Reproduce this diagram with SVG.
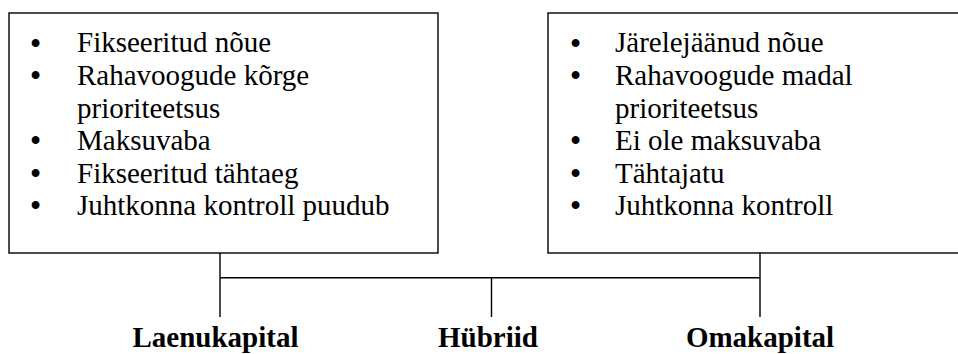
<svg xmlns="http://www.w3.org/2000/svg" width="958" height="354" viewBox="0 0 958 354">
<style>
.box{fill:#fff;stroke:#000;stroke-width:1.4}
.ln{stroke:#000;stroke-width:1.4;fill:none}
text.t{font-family:'Liberation Serif','Times New Roman',serif;font-size:29px;fill:#000}
text.bu{font-family:'Liberation Serif','Times New Roman',serif;font-size:29px;font-weight:bold;fill:#000;text-anchor:middle}
text.b{font-family:'Liberation Serif','Times New Roman',serif;font-size:29px;font-weight:bold;fill:#000;text-anchor:middle}
</style>
<rect width="958" height="354" fill="#fff"/>
<g id="connectors">
<path class="ln" d="M220,253 V317 M760,253 V317 M220,277.7 H760 M491.5,277.7 V317"/>
</g>
<g id="debt-box">
<rect class="box" x="9" y="13" width="429" height="240"/>
<text class="bu" x="35.5" y="52.5">•</text><text class="t" x="77" y="52.3">Fikseeritud nõue</text>
<text class="bu" x="35.5" y="85.2">•</text><text class="t" x="77" y="85">Rahavoogude kõrge</text>
<text class="t" x="77" y="117.5">prioriteetsus</text>
<text class="bu" x="35.5" y="150.2">•</text><text class="t" x="77" y="150">Maksuvaba</text>
<text class="bu" x="35.5" y="182.7">•</text><text class="t" x="77" y="182.5">Fikseeritud tähtaeg</text>
<text class="bu" x="35.5" y="215.2">•</text><text class="t" x="77" y="215">Juhtkonna kontroll puudub</text>
</g>
<g id="equity-box">
<rect class="box" x="548" y="13" width="420" height="240"/>
<text class="bu" x="575.5" y="52.5">•</text><text class="t" x="615" y="52.3">Järelejäänud nõue</text>
<text class="bu" x="575.5" y="85.2">•</text><text class="t" x="615" y="85">Rahavoogude madal</text>
<text class="t" x="615" y="117.5">prioriteetsus</text>
<text class="bu" x="575.5" y="150.2">•</text><text class="t" x="615" y="150">Ei ole maksuvaba</text>
<text class="bu" x="575.5" y="182.7">•</text><text class="t" x="615" y="182.5">Tähtajatu</text>
<text class="bu" x="575.5" y="215.2">•</text><text class="t" x="615" y="215">Juhtkonna kontroll</text>
</g>
<g id="laenukapital"><text class="b" x="215.5" y="347.3">Laenukapital</text></g>
<g id="hybriid"><text class="b" x="488" y="347.3">Hübriid</text></g>
<g id="omakapital"><text class="b" x="760" y="347.3">Omakapital</text></g>
</svg>
